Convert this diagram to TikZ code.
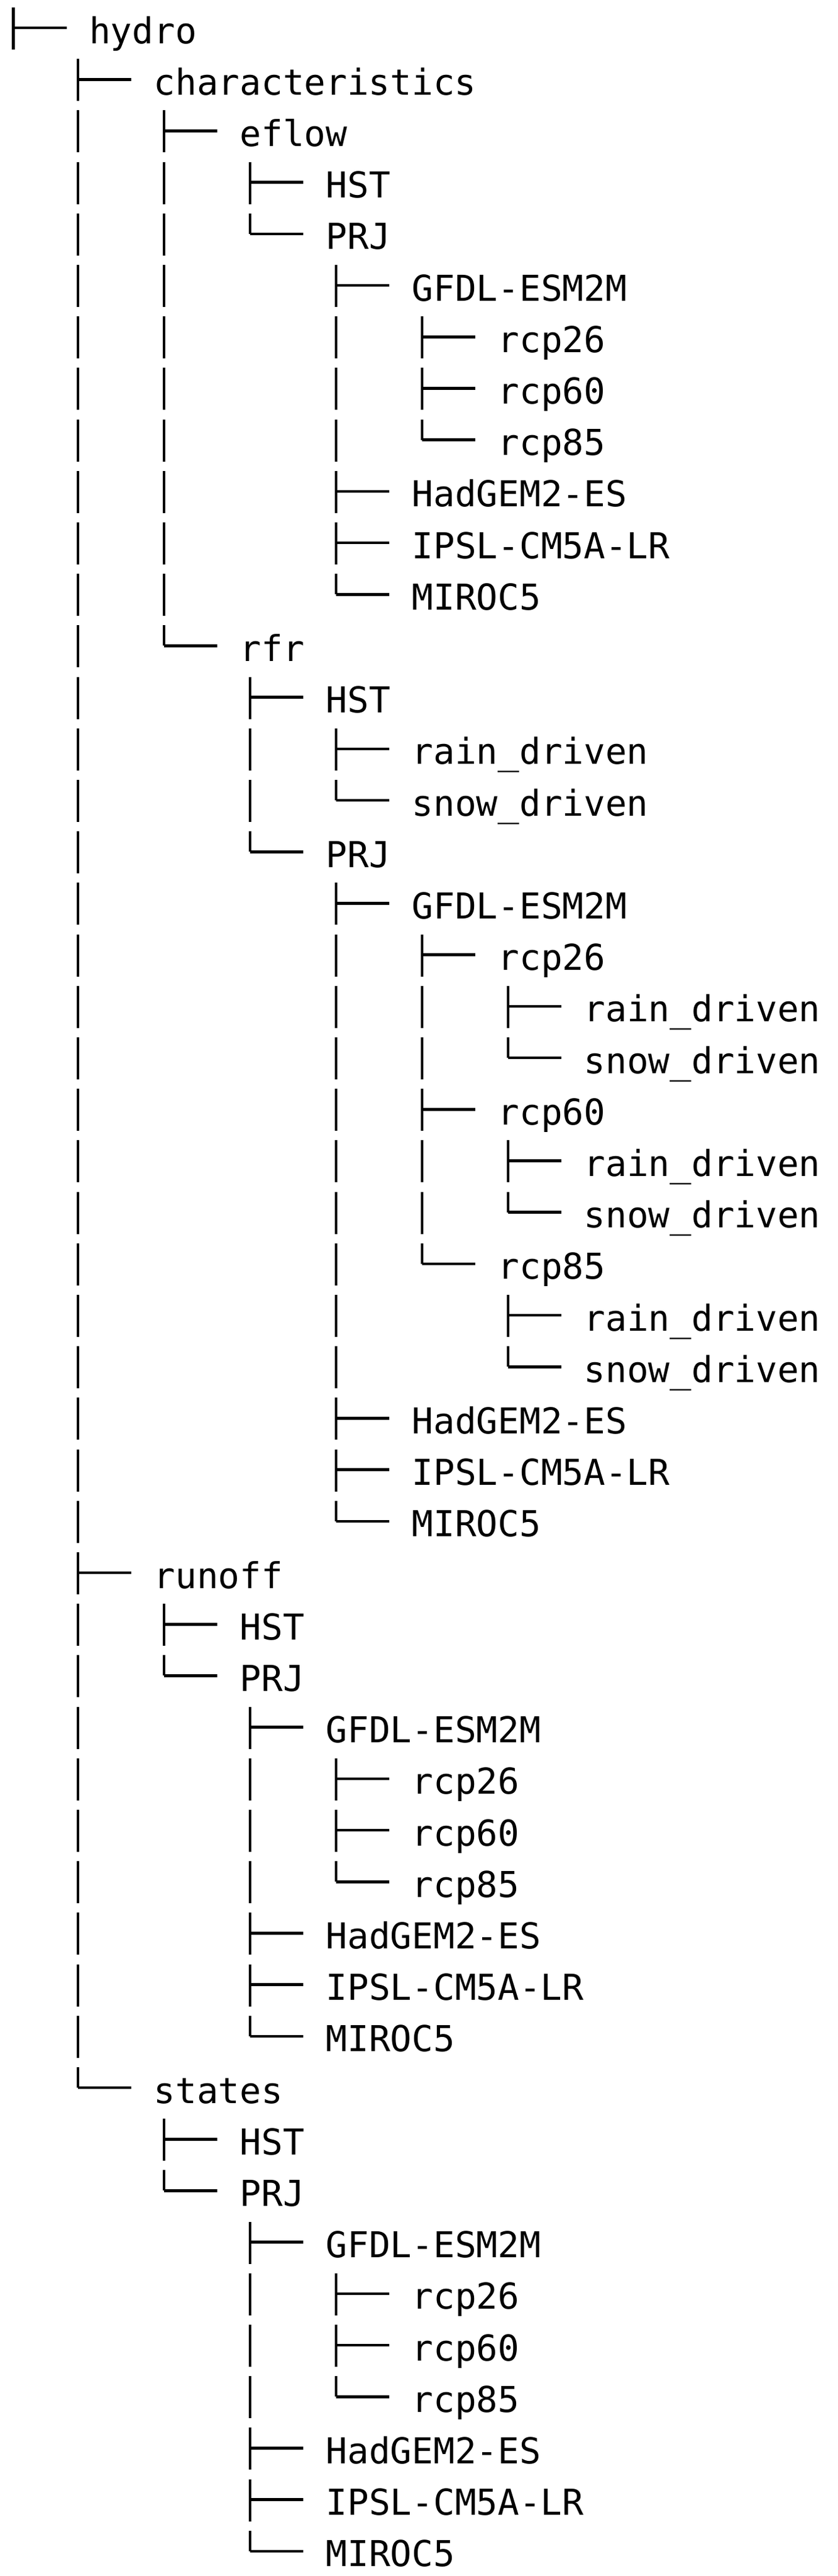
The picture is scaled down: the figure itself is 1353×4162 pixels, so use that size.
\documentclass[tikz,border=0pt]{standalone}
\usepackage{fontspec}
\newfontfamily\tm{DejaVu Sans Mono}
\tikzset{
  lbl/.style={anchor=base west, inner sep=0pt, font=\tm\fontsize{16.4}{20}\selectfont},
  br/.style={line width=1.3pt, line cap=butt},
}
\newcommand\trow[6]{% #1 row, #2 col, #3 T/L, #4 text, #5 pipes, #6 name
  \pgfmathsetmacro\yc{-(45+83.2*#1)}
  \pgfmathsetmacro\xc{ifthenelse(#2==0,21.5,126+139*(#2-1))}
  \node[lbl] (#6) at (\xc+122,\yc-25) {#4};
  \if#3T
    \draw[br] (\xc,\yc+33) -- (\xc,\yc-35);
  \else
    \draw[br] (\xc,\yc+33) -- (\xc,\yc);
  \fi
  \draw[br] (\xc,\yc) -- (\xc+86,\yc);
  \foreach \p in {#5}{%
    \ifx\p\empty\else
      \pgfmathsetmacro\xp{126+139*(\p-1)}
      \draw[br] (\xp,\yc+33) -- (\xp,\yc-35);
    \fi
  }
}
\begin{document}
\begin{tikzpicture}[x=0.01cm,y=0.01cm]
\useasboundingbox (0,0) rectangle (1353,-4162);
\trow{0}{0}{T}{hydro}{}{hydro}
\trow{1}{1}{T}{characteristics}{}{char}
\trow{2}{2}{T}{eflow}{1}{eflow}
\trow{3}{3}{T}{HST}{1,2}{efhst}
\trow{4}{3}{L}{PRJ}{1,2}{efprj}
\trow{5}{4}{T}{GFDL-ESM2M}{1,2}{efgfdl}
\trow{6}{5}{T}{rcp26}{1,2,4}{efg26}
\trow{7}{5}{T}{rcp60}{1,2,4}{efg60}
\trow{8}{5}{L}{rcp85}{1,2,4}{efg85}
\trow{9}{4}{T}{HadGEM2-ES}{1,2}{efhad}
\trow{10}{4}{T}{IPSL-CM5A-LR}{1,2}{efipsl}
\trow{11}{4}{L}{MIROC5}{1,2}{efmiroc}
\trow{12}{2}{L}{rfr}{1}{rfr}
\trow{13}{3}{T}{HST}{1}{rfhst}
\trow{14}{4}{T}{rain\_driven}{1,3}{rfhrain}
\trow{15}{4}{L}{snow\_driven}{1,3}{rfhsnow}
\trow{16}{3}{L}{PRJ}{1}{rfprj}
\trow{17}{4}{T}{GFDL-ESM2M}{1}{rfgfdl}
\trow{18}{5}{T}{rcp26}{1,4}{rf26}
\trow{19}{6}{T}{rain\_driven}{1,4,5}{rf26r}
\trow{20}{6}{L}{snow\_driven}{1,4,5}{rf26s}
\trow{21}{5}{T}{rcp60}{1,4}{rf60}
\trow{22}{6}{T}{rain\_driven}{1,4,5}{rf60r}
\trow{23}{6}{L}{snow\_driven}{1,4,5}{rf60s}
\trow{24}{5}{L}{rcp85}{1,4}{rf85}
\trow{25}{6}{T}{rain\_driven}{1,4}{rf85r}
\trow{26}{6}{L}{snow\_driven}{1,4}{rf85s}
\trow{27}{4}{T}{HadGEM2-ES}{1}{rfhad}
\trow{28}{4}{T}{IPSL-CM5A-LR}{1}{rfipsl}
\trow{29}{4}{L}{MIROC5}{1}{rfmiroc}
\trow{30}{1}{T}{runoff}{}{runoff}
\trow{31}{2}{T}{HST}{1}{rohst}
\trow{32}{2}{L}{PRJ}{1}{roprj}
\trow{33}{3}{T}{GFDL-ESM2M}{1}{rogfdl}
\trow{34}{4}{T}{rcp26}{1,3}{ro26}
\trow{35}{4}{T}{rcp60}{1,3}{ro60}
\trow{36}{4}{L}{rcp85}{1,3}{ro85}
\trow{37}{3}{T}{HadGEM2-ES}{1}{rohad}
\trow{38}{3}{T}{IPSL-CM5A-LR}{1}{roipsl}
\trow{39}{3}{L}{MIROC5}{1}{romiroc}
\trow{40}{1}{L}{states}{}{states}
\trow{41}{2}{T}{HST}{}{sthst}
\trow{42}{2}{L}{PRJ}{}{stprj}
\trow{43}{3}{T}{GFDL-ESM2M}{}{stgfdl}
\trow{44}{4}{T}{rcp26}{3}{st26}
\trow{45}{4}{T}{rcp60}{3}{st60}
\trow{46}{4}{L}{rcp85}{3}{st85}
\trow{47}{3}{T}{HadGEM2-ES}{}{sthad}
\trow{48}{3}{T}{IPSL-CM5A-LR}{}{stipsl}
\trow{49}{3}{L}{MIROC5}{}{stmiroc}
\end{tikzpicture}
\end{document}
